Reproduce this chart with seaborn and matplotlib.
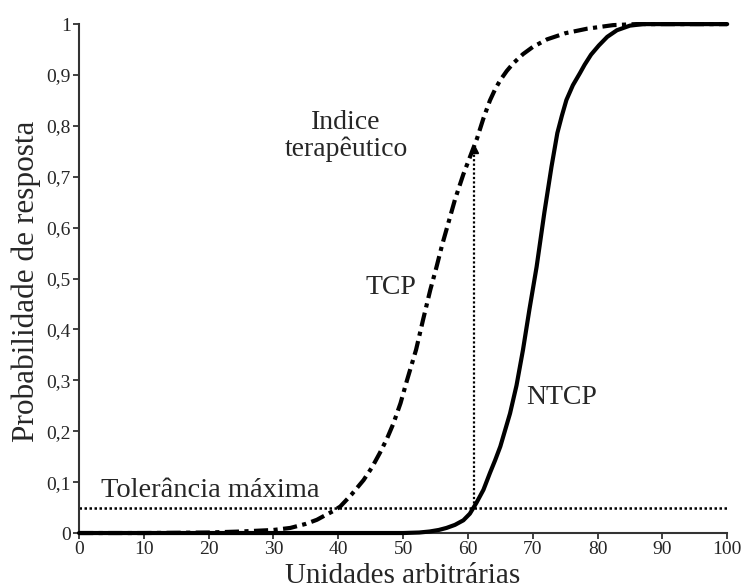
import matplotlib
matplotlib.use("Agg")
import matplotlib.pyplot as plt
import seaborn as sns
import pandas as pd

# Tumour control probability (TCP)
tcp_dose = [0, 10, 20, 25, 30, 32.6, 35, 36.7, 38, 39.2, 40.3, 42, 43.9, 45.2,
            46.4, 47.5, 48.5, 49.6, 50.6, 52, 53.1, 54.2, 55.1, 56, 57, 58,
            59.3, 60.5, 61.4, 62.4, 63.4, 64.2, 65, 66, 67, 68.5, 70, 72.2,
            75, 78.4, 82.4, 86, 90, 100]
tcp_prob = [0.0, 0.0, 0.001, 0.003, 0.006, 0.01, 0.018, 0.026, 0.035, 0.043,
            0.052, 0.075, 0.104, 0.129, 0.157, 0.185, 0.215, 0.255, 0.30,
            0.36, 0.42, 0.478, 0.52, 0.565, 0.61, 0.655, 0.705, 0.745, 0.775,
            0.815, 0.85, 0.872, 0.89, 0.908, 0.923, 0.941, 0.955, 0.97, 0.982,
            0.991, 0.998, 1.0, 1.0, 1.0]

# Normal tissue complication probability (NTCP)
ntcp_dose = [0, 20, 40, 50, 52.5, 54.1, 55.5, 56.7, 58, 59.3, 60.3, 61.3, 62.4,
             63.4, 64.2, 65, 66.5, 67.5, 68.5, 69.5, 70.6, 71.8, 72.9, 73.8,
             74.5, 75.2, 76.2, 77.3, 78, 79, 80.2, 81.5, 83, 85, 87, 90, 100]
ntcp_prob = [0.0, 0.0, 0.0, 0.0, 0.001, 0.003, 0.006, 0.01, 0.016, 0.025,
             0.038, 0.059, 0.085, 0.118, 0.143, 0.17, 0.235, 0.29, 0.36, 0.44,
             0.523, 0.63, 0.72, 0.786, 0.82, 0.851, 0.88, 0.904, 0.92, 0.94,
             0.958, 0.975, 0.988, 0.997, 1.0, 1.0, 1.0]

tolerance_level = 0.05
index_dose = 61
index_top = 0.755

x_ticks = [0, 10, 20, 30, 40, 50, 60, 70, 80, 90, 100]
y_ticks = [0, 0.1, 0.2, 0.3, 0.4, 0.5, 0.6, 0.7, 0.8, 0.9, 1.0]
y_tick_labels = ["0", "0,1", "0,2", "0,3", "0,4", "0,5", "0,6", "0,7", "0,8", "0,9", "1"]

sns.set_style("ticks")
plt.rcParams["font.family"] = ["Liberation Serif", "DejaVu Serif"]

fig = plt.figure(figsize=(7.42, 5.88), dpi=100)
ax = fig.add_axes([0.1065, 0.0935, 0.8735, 0.8655])

tcp_df = pd.DataFrame({"dose": tcp_dose, "prob": tcp_prob})
ntcp_df = pd.DataFrame({"dose": ntcp_dose, "prob": ntcp_prob})

# tolerance line and therapeutic-index marker
ax.plot([0, 100], [tolerance_level, tolerance_level], color="black",
        lw=1.8, linestyle=(0, (1, 1)), clip_on=False, zorder=2)
ax.plot([index_dose, index_dose], [tolerance_level, index_top], color="black",
        lw=1.6, linestyle=(0, (1, 1)), zorder=2)
ax.plot([index_dose], [index_top], marker="^", markersize=6, color="black",
        zorder=3)

sns.lineplot(data=tcp_df, x="dose", y="prob", ax=ax, color="black", lw=3.0,
             zorder=4, clip_on=False)
ax.lines[-1].set_dashes((3.4, 1.3, 1, 1.3))
ax.lines[-1].set_dash_capstyle("butt")
sns.lineplot(data=ntcp_df, x="dose", y="prob", ax=ax, color="black", lw=3.0,
             zorder=5, clip_on=False)
ax.lines[-1].set_solid_joinstyle("round")

ax.set_xlim(0, 100)
ax.set_ylim(0, 1)
ax.set_xticks(x_ticks)
ax.set_xticklabels([str(t) for t in x_ticks])
ax.set_yticks(y_ticks)
ax.set_yticklabels(y_tick_labels)
ax.tick_params(axis="both", labelsize=14, length=4, width=1.3,
               color="#333333", pad=2)
for side in ["top", "right"]:
    ax.spines[side].set_visible(False)
for side in ["left", "bottom"]:
    ax.spines[side].set_color("#333333")
    ax.spines[side].set_linewidth(1.5)

ax.set_xlabel("Unidades arbitrárias", fontsize=21)
ax.xaxis.set_label_coords(0.5, -0.058)
ax.set_ylabel("Probabilidade de resposta", fontsize=22.5)
ax.yaxis.set_label_coords(-0.059, 0.495)

ax.text(41.2, 0.78, "Indice\nterapêutico", fontsize=20, ha="center",
        va="center", linespacing=1.05)
ax.text(48.1, 0.483, "TCP", fontsize=20, ha="center", va="center")
ax.text(74.5, 0.267, "NTCP", fontsize=20, ha="center", va="center")
ax.text(3.4, 0.083, "Tolerância máxima", fontsize=20.5, ha="left", va="center")

fig.savefig("out.png", dpi=100)
